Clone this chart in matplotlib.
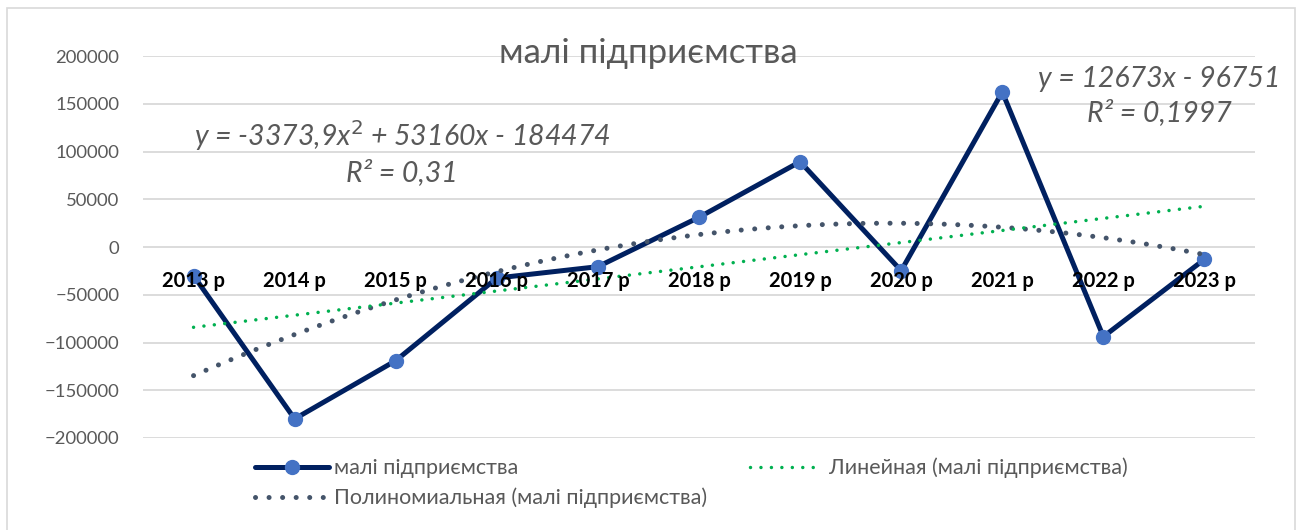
import numpy as np
import matplotlib.pyplot as plt
from matplotlib.patches import Rectangle

# data
years = ["2013 р", "2014 р", "2015 р", "2016 р", "2017 р", "2018 р",
         "2019 р", "2020 р", "2021 р", "2022 р", "2023 р"]
values = [-30000, -180000, -119000, -32500, -20600, 31100,
          89300, -24800, 162300, -93900, -12900]
linear_coef = [12673, -96751]            # y = a*x + b
poly_coef = [-3373.9, 53160, -184474]     # y = a*x^2 + b*x + c

title = "малі підприємства"
series_name = "малі підприємства"
linear_name = "Линейная (малі підприємства)"
poly_name = "Полиномиальная (малі підприємства)"
linear_label = "y = 12673x - 96751\nR² = 0,1997"
poly_label = "y = -3373,9x$^2$ + 53160x - 184474\nR² = 0,31"

FONT = ["Lato", "DejaVu Sans"]
GRAY = "#595959"
plt.rcParams["font.family"] = FONT

W, H = 1298, 530
fig = plt.figure(figsize=(W / 100, H / 100), dpi=100)
ax = fig.add_axes([143 / W, 1 - 438 / H, (1255 - 143) / W, (438 - 56) / H])

fig.patches.append(Rectangle((7 / W, -0.05), (1295 - 7) / W, 1 - 8 / H + 0.05,
                             transform=fig.transFigure, fill=False,
                             edgecolor="#D9D9D9", linewidth=1.2))

x = np.arange(len(years))
line_main, = ax.plot(x, values, color="#002060", lw=3.6, marker="o", ms=10,
                     mfc="#4472C4", mec="#4472C4", zorder=3,
                     solid_capstyle="round", solid_joinstyle="round")

# trendlines (Excel x runs 1..n)
xs = np.linspace(1, len(years), 200)
poly_y = np.polyval(poly_coef, xs)
lin_y = np.polyval(linear_coef, xs)
line_poly, = ax.plot(xs - 1, poly_y, color="#44546A", lw=3.6,
                     linestyle=(0, (0.01, 2.7)), dash_capstyle="round", zorder=4)
line_lin, = ax.plot(xs - 1, lin_y, color="#00B050", lw=2.5,
                    linestyle=(0, (0.01, 3.0)), dash_capstyle="round", zorder=4)

ax.set_xlim(-0.5, len(years) - 0.5)
ax.set_ylim(-200000, 200000)
ax.set_yticks(np.arange(-200000, 200001, 50000))
ax.yaxis.grid(True, color="#D9D9D9", lw=1.3)
ax.tick_params(axis="y", length=0, pad=17, labelsize=13.3, labelcolor=GRAY)
for s in ax.spines.values():
    s.set_visible(False)
ax.spines["bottom"].set_position(("data", 0))
ax.set_xticks(x)
ax.set_xticklabels(years, fontweight="bold", fontsize=14.5, color="black")
ax.tick_params(axis="x", length=0, pad=17.5)
ax.xaxis.set_zorder(6)
ax.yaxis.set_zorder(0.5)

fig.text(648 / W, 1 - 53 / H, title, ha="center", va="center",
         fontsize=25, color=GRAY)
fig.text(402 / W, 1 - 152 / H, poly_label, ha="center", va="center",
         fontsize=20.5, color=GRAY, style="italic", linespacing=1.3,
         multialignment="center")
fig.text(1159 / W, 1 - 96 / H, linear_label, ha="center", va="center",
         fontsize=20.5, color=GRAY, style="italic", linespacing=1.3,
         multialignment="center")

leg = fig.legend([line_main, line_poly, line_lin], [series_name, poly_name, linear_name],
                 ncol=2, loc="center left", bbox_to_anchor=(236 / W, 1 - 483 / H),
                 frameon=False, fontsize=15.5, labelcolor=GRAY,
                 handlelength=3.4, handletextpad=0.25, columnspacing=2.0,
                 labelspacing=0.42)

fig.savefig("out.png", dpi=100)
